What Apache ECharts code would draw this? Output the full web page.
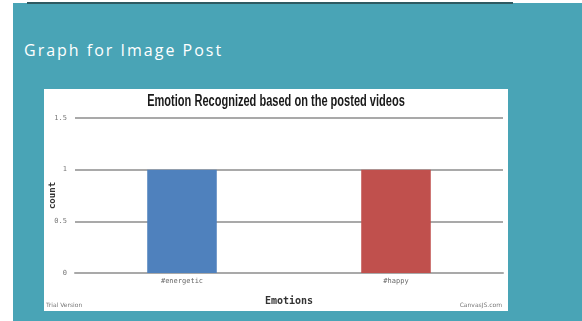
<!DOCTYPE html>
<html>
<head>
<meta charset="utf-8">
<script src="https://cdn.jsdelivr.net/npm/echarts@6/dist/echarts.min.js"></script>
<style>
  html, body { margin: 0; padding: 0; background: #ffffff; }
  .panel {
    position: absolute; left: 13px; top: 3px; width: 569px; height: 318px;
    background-color: #49a4b6;
  }
  .topline {
    position: absolute; left: 27px; top: 2px; width: 486px; height: 2px;
    background-color: #2e5a62;
  }
  .heading {
    position: absolute; left: 24px; top: 39px;
    font-family: "Open Sans", sans-serif; font-size: 16px; color: #ffffff;
    letter-spacing: 2px;
  }
  #main {
    position: absolute; left: 44px; top: 89px; width: 464px; height: 222px;
  }
</style>
</head>
<body>
<div class="panel"></div>
<div class="topline"></div>
<div class="heading">Graph for Image Post</div>
<div id="main"></div>
<script>
  const emotions = ['#energetic', '#happy'];
  const counts = [1, 1];
  const barColors = ['#4f81bd', '#c0504d'];
  const yTicks = [0, 0.5, 1, 1.5];

  const chart = echarts.init(document.getElementById('main'));

  const option = {
    backgroundColor: '#ffffff',
    animation: false,
    graphic: [
      {
        // condensed chart title
        type: 'text', x: 232, y: 13, scaleX: 0.69,
        style: {
          text: 'Emotion Recognized based on the posted videos',
          x: 0, y: 0, align: 'center', verticalAlign: 'middle',
          fontFamily: 'Liberation Sans', fontWeight: 'bold', fontSize: 16, fill: '#1a1a1a'
        }
      },
      {
        type: 'text', left: 2, bottom: 3,
        style: { text: 'Trial Version', fontSize: 6, fill: '#777', fontFamily: 'DejaVu Sans' }
      },
      {
        type: 'text', right: 6, bottom: 3,
        style: { text: 'CanvasJS.com', fontSize: 6, fill: '#777', fontFamily: 'DejaVu Sans' }
      }
    ],
    grid: { left: 31, right: 5, top: 29, bottom: 38, containLabel: false, outerBoundsMode: 'none' },
    xAxis: {
      type: 'category',
      data: emotions,
      name: 'Emotions',
      nameLocation: 'middle',
      nameGap: 23,
      nameTextStyle: {
        fontFamily: 'DejaVu Sans Mono', fontWeight: 'bold', fontSize: 10, color: '#333'
      },
      axisLine: { lineStyle: { color: '#a9a9a9', width: 2 } },
      axisTick: { alignWithLabel: true, length: 3, lineStyle: { color: '#888' } },
      axisLabel: { fontFamily: 'DejaVu Sans Mono', fontSize: 7, color: '#666', margin: 5 }
    },
    yAxis: {
      type: 'value',
      min: yTicks[0],
      max: yTicks[yTicks.length - 1],
      interval: 0.5,
      name: 'count',
      nameLocation: 'middle',
      nameGap: 18,
      nameMoveOverlap: false,
      nameTextStyle: {
        fontFamily: 'DejaVu Sans Mono', fontWeight: 'bold', fontSize: 9, color: '#333'
      },
      axisLine: { show: false },
      axisTick: { show: false },
      splitLine: { lineStyle: { color: '#a9a9a9', width: 2 } },
      axisLabel: { fontFamily: 'DejaVu Sans Mono', fontSize: 7, color: '#777', margin: 8 }
    },
    series: [
      {
        type: 'bar',
        barWidth: '32.5%',
        data: counts.map((v, i) => ({ value: v, itemStyle: { color: barColors[i] } }))
      }
    ]
  };

  chart.setOption(option);
</script>
</body>
</html>
